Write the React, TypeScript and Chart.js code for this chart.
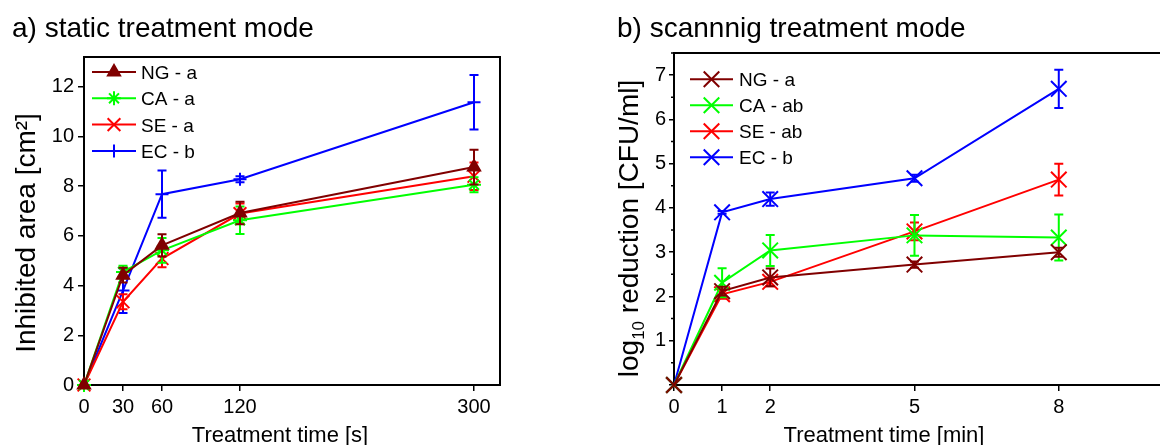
import React, { useEffect, useRef } from 'react';
import { Chart, registerables } from 'chart.js';
import { drawPoint } from 'chart.js/helpers';

Chart.register(...registerables);

const FONT = '"Liberation Sans", Arial, Helvetica, sans-serif';

// ---------- a) static treatment mode ----------
const staticTimes = [0, 30, 60, 120, 300];
const staticXTicks = [0, 30, 60, 120, 300];
const staticYTicks = [0, 2, 4, 6, 8, 10, 12];
const ngStatic = [0, 4.42, 5.62, 6.92, 8.77];
const ngStaticErr = [0, 0.3, 0.45, 0.45, 0.7];
const caStatic = [0, 4.55, 5.42, 6.63, 8.06];
const caStaticErr = [0, 0.25, 0.5, 0.55, 0.3];
const seStatic = [0, 3.35, 5.09, 6.9, 8.4];
const seStaticErr = [0, 0.3, 0.35, 0.4, 0.55];
const ecStatic = [0, 3.8, 7.68, 8.28, 11.38];
const ecStaticErr = [0, 0.9, 0.95, 0.12, 1.1];
const staticLabels = ['NG - a', 'CA - a', 'SE - a', 'EC - b'];

// ---------- b) scanning treatment mode ----------
const scanTimes = [0, 1, 2, 5, 8];
const scanXTicks = [0, 1, 2, 5, 8];
const scanYTicks = [0, 1, 2, 3, 4, 5, 6, 7];
const scanYMinorTicks = [0.5, 1.5, 2.5, 3.5, 4.5, 5.5, 6.5, 7.5];
const ngScan = [0, 2.12, 2.43, 2.72, 3.0];
const ngScanErr = [0, 0.1, 0.2, 0.07, 0.1];
const caScan = [0, 2.31, 3.04, 3.38, 3.33];
const caScanErr = [0, 0.33, 0.35, 0.46, 0.52];
const seScan = [0, 2.05, 2.33, 3.47, 4.64];
const seScanErr = [0, 0.1, 0.1, 0.2, 0.36];
const ecScan = [0, 3.9, 4.2, 4.67, 6.69];
const ecScanErr = [0, 0.03, 0.15, 0.08, 0.43];
const scanLabels = ['NG - a', 'CA - ab', 'SE - ab', 'EC - b'];

const COLORS = ['#800000', '#00ff00', '#ff0000', '#0000ff'];

type Series = {
  label: string;
  x: number[];
  y: number[];
  err: number[];
  color: string;
  marker: string;
  radius: number;
};

const staticSeries: Series[] = [
  { label: staticLabels[0], x: staticTimes, y: ngStatic, err: ngStaticErr, color: COLORS[0], marker: 'triangle', radius: 7 },
  { label: staticLabels[1], x: staticTimes, y: caStatic, err: caStaticErr, color: COLORS[1], marker: 'star', radius: 7 },
  { label: staticLabels[2], x: staticTimes, y: seStatic, err: seStaticErr, color: COLORS[2], marker: 'crossRot', radius: 9 },
  { label: staticLabels[3], x: staticTimes, y: ecStatic, err: ecStaticErr, color: COLORS[3], marker: 'cross', radius: 6.5 },
];

const scanSeries: Series[] = [
  { label: scanLabels[0], x: scanTimes, y: ngScan, err: ngScanErr, color: COLORS[0], marker: 'crossRot', radius: 11 },
  { label: scanLabels[1], x: scanTimes, y: caScan, err: caScanErr, color: COLORS[1], marker: 'crossRot', radius: 11 },
  { label: scanLabels[2], x: scanTimes, y: seScan, err: seScanErr, color: COLORS[2], marker: 'crossRot', radius: 11 },
  { label: scanLabels[3], x: scanTimes, y: ecScan, err: ecScanErr, color: COLORS[3], marker: 'crossRot', radius: 11 },
];

type TitlePart = { text: string; size: number; shift: number };

type Panel = {
  series: Series[];
  canvasLeft: number;
  canvasWidth: number;
  padding: { left: number; top: number; right: number; bottom: number };
  yWidth: number;
  xHeight: number;
  xMin: number;
  xMax: number;
  yMin: number;
  yMax: number;
  xTicks: number[];
  yTicks: number[];
  yMinor: number[];
  hideZeroY: boolean;
  yTickLength: number;
  yTickPadding: number;
  capHalf: number;
  title: string;
  titleX: number;
  titleY: number;
  xTitle: string;
  xTitleX: number;
  xTitleY: number;
  yTitle: TitlePart[];
  yTitleX: number;
  yTitleCenter: number;
  legend: { x1: number; x2: number; tx: number; y0: number; dy: number };
};

const panels: Panel[] = [
  {
    series: staticSeries,
    canvasLeft: 0,
    canvasWidth: 580,
    padding: { left: 0, top: 57, right: 80, bottom: 0 },
    yWidth: 84,
    xHeight: 60,
    xMin: 0,
    xMax: 320,
    yMin: 0,
    yMax: 13.2,
    xTicks: staticXTicks,
    yTicks: staticYTicks,
    yMinor: [],
    hideZeroY: false,
    yTickLength: 6,
    yTickPadding: 4,
    capHalf: 4.5,
    title: 'a) static treatment mode',
    titleX: 12,
    titleY: 37,
    xTitle: 'Treatment time [s]',
    xTitleX: 280,
    xTitleY: 442,
    yTitle: [{ text: 'Inhibited area [cm²]', size: 28, shift: 0 }],
    yTitleX: 35,
    yTitleCenter: 233,
    legend: { x1: 92, x2: 136, tx: 141, y0: 72, dy: 26.3 },
  },
  {
    series: scanSeries,
    canvasLeft: 580,
    canvasWidth: 600,
    padding: { left: 0, top: 53, right: 10, bottom: 0 },
    yWidth: 94,
    xHeight: 60,
    xMin: 0,
    xMax: 10.25,
    yMin: 0,
    yMax: 7.5,
    xTicks: scanXTicks,
    yTicks: scanYTicks,
    yMinor: scanYMinorTicks,
    hideZeroY: true,
    yTickLength: 5,
    yTickPadding: 3,
    capHalf: 4.5,
    title: 'b) scannnig treatment mode',
    titleX: 37,
    titleY: 37,
    xTitle: 'Treatment time [min]',
    xTitleX: 304,
    xTitleY: 442,
    yTitle: [
      { text: 'log', size: 28, shift: 0 },
      { text: '10', size: 17, shift: 6 },
      { text: ' reduction [CFU/ml]', size: 28, shift: 0 },
    ],
    yTitleX: 58,
    yTitleCenter: 228.5,
    legend: { x1: 110, x2: 153, tx: 159, y0: 79.3, dy: 26 },
  },
];

function makePlugins(p: Panel) {
  const errorBars = {
    id: 'errorBars',
    beforeDatasetDraw(chart: any, args: any) {
      const s = p.series[args.index];
      const xs = chart.scales.x;
      const ys = chart.scales.y;
      const ctx = chart.ctx;
      ctx.save();
      ctx.strokeStyle = s.color;
      ctx.lineWidth = 2;
      s.x.forEach((xv, i) => {
        const e = s.err[i];
        if (!e) return;
        const px = xs.getPixelForValue(xv);
        const t = ys.getPixelForValue(s.y[i] + e);
        const b = ys.getPixelForValue(s.y[i] - e);
        ctx.beginPath();
        ctx.moveTo(px, t);
        ctx.lineTo(px, b);
        ctx.moveTo(px - p.capHalf, t);
        ctx.lineTo(px + p.capHalf, t);
        ctx.moveTo(px - p.capHalf, b);
        ctx.lineTo(px + p.capHalf, b);
        ctx.stroke();
      });
      ctx.restore();
    },
  };

  const frame = {
    id: 'frameAndText',
    afterDraw(chart: any) {
      const ctx = chart.ctx;
      const a = chart.chartArea;
      ctx.save();
      // top & right frame lines
      ctx.strokeStyle = '#000';
      ctx.lineWidth = 2;
      ctx.beginPath();
      ctx.moveTo(a.left - 1, a.top);
      ctx.lineTo(a.right, a.top);
      ctx.lineTo(a.right, a.bottom + 1);
      ctx.stroke();

      // minor y ticks
      if (p.yMinor.length) {
        const ys = chart.scales.y;
        ctx.lineWidth = 1.5;
        ctx.beginPath();
        p.yMinor.forEach((v) => {
          const py = ys.getPixelForValue(v);
          if (py < a.top) return;
          ctx.moveTo(a.left - 3, py);
          ctx.lineTo(a.left, py);
        });
        ctx.stroke();
      }

      // legend
      p.series.forEach((s, i) => {
        const y = p.legend.y0 + i * p.legend.dy;
        ctx.save();
        ctx.strokeStyle = s.color;
        ctx.fillStyle = s.color;
        ctx.lineWidth = 2;
        ctx.beginPath();
        ctx.moveTo(p.legend.x1, y);
        ctx.lineTo(p.legend.x2, y);
        ctx.stroke();
        drawPoint(ctx, { pointStyle: s.marker, radius: s.radius, borderWidth: 2, rotation: 0 } as any, (p.legend.x1 + p.legend.x2) / 2, y);
        ctx.fillStyle = '#000';
        ctx.font = `19px ${FONT}`;
        ctx.textAlign = 'left';
        ctx.textBaseline = 'alphabetic';
        ctx.fillText(s.label, p.legend.tx, y + 7);
        ctx.restore();
      });

      // titles
      ctx.fillStyle = '#000';
      ctx.textBaseline = 'alphabetic';
      ctx.textAlign = 'left';
      ctx.font = `28px ${FONT}`;
      ctx.fillText(p.title, p.titleX, p.titleY);
      ctx.font = `22px ${FONT}`;
      ctx.textAlign = 'center';
      ctx.fillText(p.xTitle, p.xTitleX, p.xTitleY);

      // rotated y title
      ctx.save();
      ctx.translate(p.yTitleX, p.yTitleCenter);
      ctx.rotate(-Math.PI / 2);
      ctx.textAlign = 'left';
      let total = 0;
      p.yTitle.forEach((part) => {
        ctx.font = `${part.size}px ${FONT}`;
        total += ctx.measureText(part.text).width;
      });
      let x = -total / 2;
      p.yTitle.forEach((part) => {
        ctx.font = `${part.size}px ${FONT}`;
        ctx.fillText(part.text, x, part.shift);
        x += ctx.measureText(part.text).width;
      });
      ctx.restore();

      ctx.restore();
    },
  };
  return [errorBars, frame];
}

function makeConfig(p: Panel): any {
  return {
    type: 'line',
    data: {
      datasets: p.series.map((s) => ({
        label: s.label,
        data: s.x.map((xv, i) => ({ x: xv, y: s.y[i] })),
        borderColor: s.color,
        backgroundColor: s.color,
        pointBorderColor: s.color,
        pointBackgroundColor: s.color,
        pointStyle: s.marker,
        pointRadius: s.radius,
        pointBorderWidth: 2,
        borderWidth: 2,
        tension: 0,
        fill: false,
        clip: false,
      })),
    },
    options: {
      animation: false,
      responsive: false,
      events: [],
      layout: { padding: p.padding },
      plugins: {
        legend: { display: false },
        title: { display: false },
        tooltip: { enabled: false },
      },
      scales: {
        x: {
          type: 'linear',
          min: p.xMin,
          max: p.xMax,
          afterBuildTicks: (scale: any) => {
            scale.ticks = p.xTicks.map((v) => ({ value: v }));
          },
          afterFit: (scale: any) => {
            scale.height = p.xHeight;
          },
          grid: { display: true, drawOnChartArea: false, drawTicks: true, tickLength: 6, color: '#000', lineWidth: 1.5 },
          border: { display: true, color: '#000', width: 2 },
          ticks: {
            font: { size: 20, family: FONT },
            color: '#000',
            padding: 4,
            maxRotation: 0,
            autoSkip: false,
            callback: (v: any) => String(v),
          },
        },
        y: {
          type: 'linear',
          min: p.yMin,
          max: p.yMax,
          afterBuildTicks: (scale: any) => {
            scale.ticks = p.yTicks.map((v) => ({ value: v }));
          },
          afterFit: (scale: any) => {
            scale.width = p.yWidth;
          },
          grid: { display: true, drawOnChartArea: false, drawTicks: true, tickLength: p.yTickLength, color: '#000', lineWidth: 1.5 },
          border: { display: true, color: '#000', width: 2 },
          ticks: {
            font: { size: 20, family: FONT },
            color: '#000',
            padding: p.yTickPadding,
            autoSkip: false,
            callback: (v: any) => (p.hideZeroY && v === 0 ? '' : String(v)),
          },
        },
      },
    },
    plugins: makePlugins(p),
  };
}

function PanelChart({ panel }: { panel: Panel }) {
  const ref = useRef<HTMLCanvasElement | null>(null);
  useEffect(() => {
    if (!ref.current) return;
    const chart = new Chart(ref.current, makeConfig(panel));
    return () => chart.destroy();
  }, [panel]);
  return (
    <canvas
      ref={ref}
      width={panel.canvasWidth}
      height={445}
      style={{ position: 'absolute', left: panel.canvasLeft, top: 0, width: panel.canvasWidth, height: 445, display: 'block' }}
    />
  );
}

export default function App() {
  return (
    <>
      <style>{`html,body{margin:0;padding:0;overflow:hidden;background:#fff;}`}</style>
      <div style={{ position: 'relative', width: 1160, height: 445, overflow: 'hidden', background: '#fff' }}>
        {panels.map((p, i) => (
          <PanelChart key={i} panel={p} />
        ))}
      </div>
    </>
  );
}
